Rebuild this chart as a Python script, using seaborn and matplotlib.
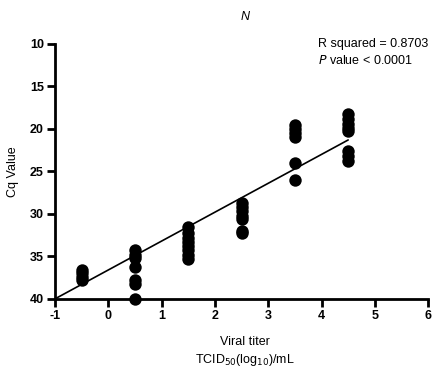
import numpy as np
import pandas as pd
import matplotlib
matplotlib.use("Agg")
import matplotlib.pyplot as plt
import seaborn as sns

sns.set_style("white", {"text.color": "black", "axes.labelcolor": "black",
                        "xtick.color": "black", "ytick.color": "black",
                        "axes.edgecolor": "black"})
plt.rcParams['font.family'] = ['Liberation Sans', 'DejaVu Sans']
plt.rcParams['axes.unicode_minus'] = False

titer_levels = [-0.5, 0.5, 1.5, 2.5, 3.5, 4.5]
cq_values = [
    [36.6, 37.0, 37.4, 37.8],
    [34.3, 34.8, 35.2, 36.2, 37.8, 38.2, 40.0],
    [31.5, 32.3, 32.8, 33.3, 33.8, 34.3, 34.8, 35.3],
    [28.7, 29.2, 29.7, 30.2, 30.6, 32.0, 32.3],
    [19.5, 20.0, 20.5, 21.0, 24.0, 26.0],
    [18.2, 18.8, 19.4, 19.9, 20.3, 22.6, 23.2, 23.8],
]
# regression line as shown in the figure
fit_slope = -3.4
fit_intercept = 36.6
fit_x_range = [-1.0, 4.5]

x_vals = [x for x, ys in zip(titer_levels, cq_values) for _ in ys]
y_vals = [y for ys in cq_values for y in ys]
df = pd.DataFrame({"titer": x_vals, "cq": y_vals})

title = "N"
stats_lines = ["R squared = 0.8703", "$\\it{P}$ value < 0.0001"]
xlabel_lines = ["Viral titer", "TCID$_{50}$(log$_{10}$)/mL"]

fig = plt.figure(figsize=(4.36, 3.69), dpi=100)
ax = fig.add_axes([0.126, 0.19, 0.856, 0.691])

sns.scatterplot(data=df, x="titer", y="cq", ax=ax, color="black", s=80,
                edgecolor="black", linewidth=0, zorder=3, clip_on=False)

xl = np.array(fit_x_range)
ax.plot(xl, fit_slope * xl + fit_intercept, color="black", lw=1.2, zorder=2)

ax.set_xlim(-1, 6)
ax.set_ylim(40, 10)
ax.set_xticks(range(-1, 7))
ax.set_yticks(range(10, 41, 5))
for s in ["top", "right"]:
    ax.spines[s].set_visible(False)
for s in ["left", "bottom"]:
    ax.spines[s].set_linewidth(2)
    ax.spines[s].set_color("black")
ax.tick_params(axis="both", direction="out", length=6, width=2, labelsize=9, pad=2,
               left=True, bottom=True, colors="black")
for lab in ax.get_xticklabels() + ax.get_yticklabels():
    lab.set_fontweight("bold")

ax.set_ylabel("Cq Value", fontsize=9, labelpad=8, color="black")
ax.set_xlabel("")
fig.text(0.562, 1 - 342 / 369, xlabel_lines[0], fontsize=9, ha="center", va="center", color="black")
fig.text(0.562, 1 - 360 / 369, xlabel_lines[1], fontsize=9, ha="center", va="center", color="black")
fig.text(0.562, 0.955, title, fontsize=9, style="italic", ha="center", va="center", color="black")
ax.text(0.705, 1.0, stats_lines[0], transform=ax.transAxes, fontsize=9, ha="left", va="center", color="black")
ax.text(0.705, 0.935, stats_lines[1], transform=ax.transAxes, fontsize=9, ha="left", va="center", color="black")

fig.savefig("out.png", dpi=100)
